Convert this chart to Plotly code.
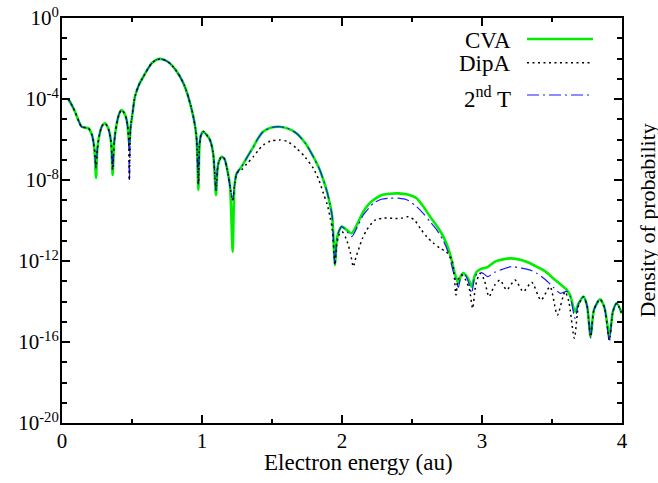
import numpy as np
import plotly.graph_objects as go

# ---------------- data (y values given as log10 of the probability density) -------------
energy_main = [0.045, 0.07, 0.093, 0.12, 0.14, 0.17, 0.19, 0.215, 0.232, 0.243, 0.252, 0.265,
               0.285, 0.307, 0.33, 0.35, 0.362, 0.372, 0.39, 0.41, 0.426, 0.445, 0.462, 0.475,
               0.481, 0.49, 0.50, 0.521, 0.55, 0.581, 0.61, 0.64, 0.67, 0.70, 0.735, 0.771,
               0.81, 0.843, 0.875, 0.902, 0.922, 0.938, 0.952, 0.962, 0.974, 0.982, 0.992,
               1.009, 1.03, 1.057, 1.08, 1.1, 1.11, 1.12, 1.14, 1.16, 1.176, 1.2, 1.219, 1.232,
               1.248, 1.283, 1.32, 1.367, 1.4, 1.438, 1.49, 1.552, 1.61, 1.676, 1.74, 1.795,
               1.835, 1.867, 1.894, 1.914, 1.93, 1.95, 1.962, 1.974, 1.998, 2.03, 2.069, 2.11,
               2.152, 2.19, 2.224, 2.28, 2.34, 2.402, 2.47, 2.533, 2.58, 2.629, 2.68, 2.724,
               2.76, 2.783, 2.805, 2.831, 2.848, 2.867, 2.89, 2.91, 2.926, 2.945, 2.962, 2.99,
               3.01, 3.04, 3.093, 3.15, 3.212, 3.28, 3.34, 3.39, 3.45, 3.51, 3.56, 3.605, 3.63,
               3.664, 3.69, 3.724, 3.75, 3.776, 3.80, 3.843, 3.875, 3.91, 3.935, 3.962, 3.998]

cva_log10 = [-4.0, -4.3, -4.63, -5.1, -5.37, -5.42, -5.45, -5.8, -6.5, -7.9, -6.5, -5.85,
             -5.35, -5.2, -5.45, -6.1, -7.75, -6.2, -5.25, -4.7, -4.54, -4.7, -5.04, -5.8,
             -6.3, -5.4, -4.9, -3.89, -3.3, -2.9, -2.55, -2.24, -2.08, -2.02, -2.08, -2.24,
             -2.55, -2.9, -3.35, -3.89, -4.4, -4.87, -5.4, -6.02, -8.49, -6.3, -5.8,
             -5.61, -5.75, -6.02, -6.7, -8.74, -7.5, -7.1, -6.85, -6.95, -7.34, -8.3, -11.54, -8.3,
             -7.67, -7.34, -6.9, -6.36, -5.95, -5.61, -5.42, -5.37, -5.45, -5.7, -6.2, -6.85,
             -7.4, -8.0, -8.6, -9.2, -9.8, -12.2, -11.0, -10.6, -10.3, -10.45, -10.63, -10.15,
             -9.56, -9.2, -8.99, -8.75, -8.68, -8.66, -8.72, -8.9, -9.3, -9.81, -10.3, -10.8,
             -11.4, -11.95, -12.6, -13.1, -12.75, -12.6, -12.75, -13.0, -13.27, -12.8, -12.53, -12.4,
             -12.36, -12.3, -12.03, -11.92, -11.87, -11.95, -12.1, -12.28, -12.5, -12.86, -13.15, -13.43, -13.7,
             -14.5, -14.1, -13.76, -14.2, -15.74, -14.4, -13.89, -14.3, -15.7, -14.5, -14.09, -14.58]

second_t_log10 = [-4.0, -4.3, -4.63, -5.1, -5.37, -5.42, -5.45, -5.8, -6.5, -7.4, -6.5, -5.85,
                  -5.35, -5.2, -5.45, -6.1, -7.5, -6.2, -5.25, -4.7, -4.54, -4.7, -5.04, -5.8,
                  -8.05, -5.4, -4.9, -3.89, -3.3, -2.9, -2.55, -2.24, -2.08, -2.02, -2.08, -2.24,
                  -2.55, -2.9, -3.35, -3.89, -4.4, -4.87, -5.4, -6.02, -8.2, -6.3, -5.8,
                  -5.61, -5.75, -6.02, -6.7, -8.5, -7.5, -7.1, -6.85, -6.95, -7.34, -8.3, -9.0, -8.3,
                  -7.67, -7.34, -6.9, -6.36, -5.95, -5.61, -5.42, -5.37, -5.45, -5.7, -6.2, -6.85,
                  -7.4, -8.0, -8.6, -9.2, -9.8, -12.2, -11.0, -10.6, -10.3, -10.5, -10.8, -10.3,
                  -9.73, -9.4, -9.15, -8.95, -8.9, -8.9, -9.0, -9.32, -9.65, -10.06, -10.5, -11.0,
                  -11.6, -12.2, -12.8, -13.3, -12.8, -12.6, -12.8, -13.2, -13.6, -12.9, -12.65, -12.56,
                  -12.62, -12.77, -12.55, -12.4, -12.28, -12.35, -12.44, -12.6, -12.9, -13.3, -13.6, -13.5, -13.75,
                  -14.83, -14.1, -13.76, -14.2, -15.8, -14.4, -13.89, -14.3, -16.0, -14.5, -14.09, -14.58]

energy_dipa = [0.045, 0.07, 0.093, 0.12, 0.14, 0.17, 0.19, 0.215, 0.232, 0.243, 0.252, 0.265,
               0.285, 0.307, 0.33, 0.35, 0.362, 0.372, 0.39, 0.41, 0.426, 0.445, 0.462, 0.475,
               0.481, 0.49, 0.50, 0.521, 0.55, 0.581, 0.61, 0.64, 0.67, 0.70, 0.735, 0.771,
               0.81, 0.843, 0.875, 0.902, 0.922, 0.938, 0.952, 0.962, 0.974, 0.982, 0.992,
               1.009, 1.03, 1.057, 1.08, 1.1, 1.11, 1.12, 1.14, 1.16, 1.176, 1.2, 1.219, 1.232,
               1.248, 1.283, 1.32, 1.367, 1.4, 1.438, 1.49, 1.552, 1.61, 1.676, 1.74, 1.795,
               1.835, 1.867, 1.894, 1.914, 1.93, 1.95, 1.962, 1.98, 2.0, 2.03, 2.06, 2.081, 2.1,
               2.117, 2.145, 2.176, 2.236, 2.3, 2.381, 2.43, 2.474, 2.52, 2.56, 2.605, 2.65, 2.7,
               2.745, 2.783, 2.8, 2.814, 2.83, 2.855, 2.88, 2.91, 2.933, 2.955, 2.986, 3.015,
               3.05, 3.09, 3.129, 3.176, 3.236, 3.295, 3.355, 3.421, 3.486, 3.538, 3.593, 3.62,
               3.66, 3.69, 3.724, 3.75, 3.776, 3.80, 3.843, 3.875, 3.91, 3.935, 3.962, 3.998]

dipa_log10 = [-4.0, -4.3, -4.63, -5.1, -5.37, -5.42, -5.45, -5.8, -6.5, -7.4, -6.5, -5.85,
              -5.35, -5.2, -5.45, -6.1, -7.5, -6.2, -5.25, -4.7, -4.54, -4.7, -5.04, -5.8,
              -8.0, -5.4, -4.9, -3.89, -3.3, -2.9, -2.55, -2.24, -2.08, -2.02, -2.08, -2.24,
              -2.55, -2.9, -3.35, -3.89, -4.4, -4.87, -5.4, -6.02, -8.2, -6.3, -5.8,
              -5.61, -5.75, -6.02, -6.7, -8.5, -7.5, -7.1, -6.85, -6.95, -7.34, -8.3, -9.0, -8.3,
              -7.67, -7.5, -7.2, -6.85, -6.55, -6.27, -6.08, -6.02, -6.1, -6.44, -6.9, -7.42,
              -8.0, -8.66, -9.2, -9.81, -10.4, -12.2, -11.2, -10.7, -10.55, -10.9, -11.6, -12.28, -11.8,
              -11.46, -10.9, -10.47, -9.98, -9.88, -9.9, -9.88, -9.81, -10.0, -10.4, -10.8, -11.1, -11.37,
              -11.55, -11.9, -12.6, -13.68, -12.9, -12.69, -12.9, -13.4, -14.34, -13.2, -12.61, -12.9,
              -13.76, -13.2, -12.94, -13.43, -12.94, -13.51, -13.05, -13.93, -13.27, -14.67, -13.51, -14.0,
              -15.82, -14.2, -13.76, -14.2, -15.74, -14.4, -13.89, -14.3, -15.9, -14.5, -14.09, -14.58]

series_names = ["CVA", "DipA", "2<sup>nd</sup> T"]
x_tick_vals = [0, 1, 2, 3, 4]
x_minor_vals = [0.5, 1.5, 2.5, 3.5]
y_tick_exps = [0, -4, -8, -12, -16, -20]
y_minor_exps = [-1, -2, -3, -5, -6, -7, -9, -10, -11, -13, -14, -15, -17, -18, -19]

# ---------------- styles -------------
FONT = "Liberation Serif, Times New Roman, serif"
GREEN = "#00ee00"
BLUE = "#1a1aff"
BLACK = "#000000"
DOT = "2px,3.5px"
DASHDOT = "12px,4px,2px,4px"

fig = go.Figure()
fig.add_trace(go.Scatter(x=energy_main, y=np.power(10.0, cva_log10), mode="lines",
                         line=dict(color=GREEN, width=2.6, shape="spline", smoothing=0.7),
                         name="CVA", showlegend=False, hoverinfo="skip"))
fig.add_trace(go.Scatter(x=energy_main, y=np.power(10.0, second_t_log10), mode="lines",
                         line=dict(color=BLUE, width=1.2, dash=DASHDOT, shape="spline", smoothing=0.7),
                         name="2nd T", showlegend=False, hoverinfo="skip"))
fig.add_trace(go.Scatter(x=energy_dipa, y=np.power(10.0, dipa_log10), mode="lines",
                         line=dict(color=BLACK, width=1.5, dash=DOT, shape="spline", smoothing=0.7),
                         name="DipA", showlegend=False, hoverinfo="skip"))

L, R, T, B = 62, 36, 18, 60
W, H = 658, 483
pw, ph = W - L - R, H - T - B

def px_x(px):
    return (px - L) / pw

def px_y(py):
    return (H - B - py) / ph

axis_common = dict(showline=True, linecolor=BLACK, linewidth=2, mirror="ticks",
                   ticks="inside", ticklen=8, tickwidth=1.5, tickcolor=BLACK,
                   showgrid=False, zeroline=False, automargin=False,
                   tickfont=dict(family=FONT, size=21, color=BLACK))

fig.update_xaxes(range=[0, 4], tickmode="array", tickvals=x_tick_vals,
                 ticktext=[str(v) for v in x_tick_vals], ticklabelstandoff=-2,
                 minor=dict(tickmode="array", tickvals=x_minor_vals, ticks="inside",
                            ticklen=4, tickwidth=1.5, tickcolor=BLACK, showgrid=False),
                 **axis_common)
fig.update_yaxes(type="log", range=[-20, 0], tickmode="array",
                 tickvals=[10.0 ** e for e in y_tick_exps],
                 ticktext=["10<sup>%d</sup>" % e for e in y_tick_exps], ticklabelstandoff=-3,
                 minor=dict(tickmode="array", tickvals=[10.0 ** e for e in y_minor_exps],
                            ticks="inside", ticklen=5, tickwidth=1.5, tickcolor=BLACK,
                            showgrid=False),
                 **axis_common)

annotations = [
    dict(text="Electron energy (au)", xref="paper", yref="paper", x=px_x(358), y=0,
         yshift=-39, xanchor="center", yanchor="middle", showarrow=False,
         font=dict(family=FONT, size=23, color=BLACK)),
    dict(text="Density of probability", xref="paper", yref="paper", x=1, y=0.5,
         xshift=25, xanchor="center", yanchor="middle", textangle=-90, showarrow=False,
         font=dict(family=FONT, size=22, color=BLACK)),
]
legend_y_text = [40, 63, 97]
legend_y_line = [39, 62.7, 95]
legend_styles = [dict(color=GREEN, width=2.6), dict(color=BLACK, width=1.5, dash=DOT),
                 dict(color=BLUE, width=1.2, dash=DASHDOT)]
shapes = []
for name, yt, yl, st in zip(series_names, legend_y_text, legend_y_line, legend_styles):
    annotations.append(dict(text=name, xref="paper", yref="paper", x=px_x(513), y=px_y(yt),
                            xanchor="right", yanchor="middle", showarrow=False,
                            font=dict(family=FONT, size=23, color=BLACK)))
    shapes.append(dict(type="line", xref="paper", yref="paper", x0=px_x(527), x1=px_x(593),
                       y0=px_y(yl), y1=px_y(yl), line=st))

fig.update_layout(width=W, height=H, margin=dict(l=L, r=R, t=T, b=B, autoexpand=False),
                  paper_bgcolor="white", plot_bgcolor="white", hovermode=False,
                  annotations=annotations, shapes=shapes, showlegend=False)

fig.write_html("out.html", config={"displayModeBar": False},
               post_script="document.body.style.margin='0px';document.body.style.padding='0px';")
